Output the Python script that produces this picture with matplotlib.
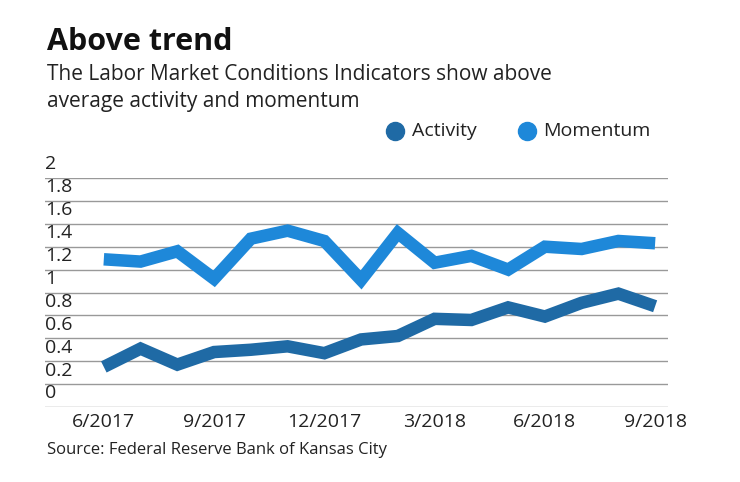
import matplotlib
matplotlib.use("Agg")
import matplotlib.pyplot as plt
from matplotlib.lines import Line2D

months = ["6/2017","7/2017","8/2017","9/2017","10/2017","11/2017","12/2017","1/2018",
          "2/2018","3/2018","4/2018","5/2018","6/2018","7/2018","8/2018","9/2018"]
activity = [0.35,0.51,0.37,0.48,0.50,0.53,0.47,0.59,0.62,0.77,0.76,0.87,0.79,0.91,0.99,0.88]
momentum = [1.29,1.27,1.36,1.12,1.47,1.54,1.45,1.11,1.52,1.26,1.32,1.20,1.40,1.38,1.45,1.43]
yticks = [0,0.2,0.4,0.6,0.8,1,1.2,1.4,1.6,1.8,2]
ylabels = ["0","0.2","0.4","0.6","0.8","1","1.2","1.4","1.6","1.8","2"]

plt.rcParams['font.family'] = ['Open Sans', 'DejaVu Sans']
W, H = 740, 482
fig = plt.figure(figsize=(7.4, 4.82), dpi=100)
ax = fig.add_axes([45/W, 1-407/H, (668-45)/W, (407-178)/H])
c_act = "#1f6aa5"; c_mom = "#1e88d9"
x = list(range(len(months)))
ax.plot(x, momentum, color=c_mom, lw=9, solid_joinstyle='miter', solid_capstyle='butt')
ax.plot(x, activity, color=c_act, lw=9, solid_joinstyle='miter', solid_capstyle='butt')
ax.set_ylim(0, 2)
ax.set_xlim(-1.6, 15.35)
for v in yticks:
    ax.axhline(v, color="#999999", lw=1, zorder=0)
for v, l in zip(yticks, ylabels):
    ax.text(-1.6, v + 0.04, l, fontsize=14, color="#222222", va="bottom", ha="left")
for s in ax.spines.values():
    s.set_visible(False)
ax.set_yticks([])
ax.set_xticks(x[::3])
ax.set_xticklabels(months[::3], fontsize=14, color="#222222")
ax.tick_params(axis='x', length=0, pad=4)

fig.text(47/W, 1-42/H, "Above trend", fontsize=22, fontweight="bold", va="center", color="#111111")
fig.text(47/W, 1-75/H, "The Labor Market Conditions Indicators show above", fontsize=15, va="center", color="#222222")
fig.text(47/W, 1-101/H, "average activity and momentum", fontsize=15, va="center", color="#222222")
for px, col in [(395, c_act), (527, c_mom)]:
    fig.add_artist(Line2D([px/W], [1-131/H], marker='o', markersize=13, color=col,
                          linestyle='none', transform=fig.transFigure))
fig.text(412/W, 1-131/H, "Activity", fontsize=14, va="center", color="#222222")
fig.text(543/W, 1-131/H, "Momentum", fontsize=14, va="center", color="#222222")
fig.text(47/W, 1-450/H, "Source: Federal Reserve Bank of Kansas City", fontsize=12, va="center", color="#222222")
fig.savefig("out.png", dpi=100, facecolor="white")
